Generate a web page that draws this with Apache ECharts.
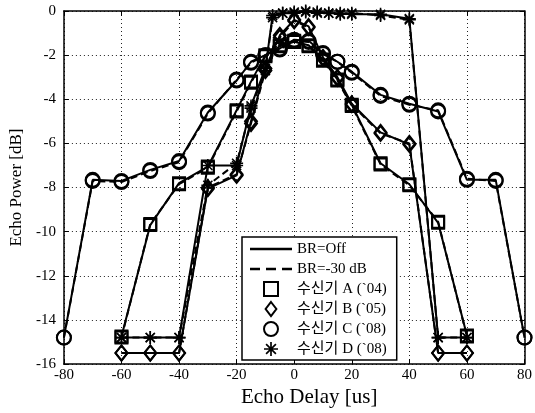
<!DOCTYPE html>
<html><head><meta charset="utf-8">
<script src="https://cdn.jsdelivr.net/npm/echarts@6/dist/echarts.min.js"></script>
<style>html,body{margin:0;padding:0;background:#fff}#c{width:535px;height:413px}</style>
</head><body><div id="c"></div>
<script>
// ---- data ----
const xTicks = [-80, -60, -40, -20, 0, 20, 40, 60, 80];
const yTicks = [-16, -14, -12, -10, -8, -6, -4, -2, 0];

const delayA = [-60, -50, -40, -30, -20, -15, -10, -5, 0, 5, 10, 15, 20, 30, 40, 50, 60];
const powerA_off = [-14.75, -9.7, -7.8, -7.05, -4.5, -3.2, -2.0, -1.6, -1.4, -1.55, -2.2, -3.1, -4.25, -6.9, -7.85, -9.6, -14.7];
const powerA_30  = [-14.8, -9.65, -7.85, -7.1, -4.55, -3.25, -2.05, -1.55, -1.35, -1.6, -2.25, -3.15, -4.3, -6.95, -7.9, -9.55, -14.75];

const delayB = [-60, -50, -40, -30, -20, -15, -10, -5, 0, 5, 10, 15, 20, 30, 40, 50, 60];
const powerB_off = [-15.5, -15.5, -15.5, -8.05, -7.45, -5.0, -2.6, -1.1, -0.4, -0.7, -2.1, -3.0, -4.2, -5.5, -6.05, -15.5, -15.5];
const powerB_30  = [-15.5, -15.5, -15.5, -8.0, -7.4, -5.1, -2.7, -1.2, -0.45, -0.75, -2.15, -3.05, -4.25, -5.55, -6.0, -15.5, -15.5];

const delayC = [-80, -70, -60, -50, -40, -30, -20, -15, -10, -5, 0, 5, 10, 15, 20, 30, 40, 50, 60, 70, 80];
const powerC_off = [-14.8, -7.65, -7.7, -7.2, -6.8, -4.6, -3.15, -2.3, -2.0, -1.7, -1.3, -1.35, -1.9, -2.3, -2.75, -3.8, -4.2, -4.55, -7.65, -7.65, -14.8];
const powerC_30  = [-14.8, -7.7, -7.75, -7.25, -6.85, -4.65, -3.1, -2.35, -2.0, -1.75, -1.35, -1.4, -1.95, -2.3, -2.8, -3.85, -4.25, -4.5, -7.6, -7.7, -14.8];

const delayD = [-60, -50, -40, -30, -20, -15, -10, -7.5, -4, 0, 4, 8, 12, 16, 20, 30, 40, 50, 60];
const powerD_off = [-14.8, -14.8, -14.8, -7.0, -7.0, -4.3, -2.6, -0.2, -0.1, -0.1, 0, -0.05, -0.1, -0.1, -0.15, -0.15, -0.35, -14.8, -14.8];
const powerD_30  = [-14.8, -14.8, -14.8, -7.9, -6.9, -4.4, -2.7, -0.3, -0.1, -0.05, -0.05, -0.1, -0.1, -0.15, -0.1, -0.2, -0.4, -14.8, -14.8];

const legendNames = ['BR=Off', 'BR=-30 dB', '수신기 A (`04)', '수신기 B (`05)', '수신기 C (`08)', '수신기 D (`08)'];
const xName = 'Echo Delay [us]';
const yName = 'Echo Power [dB]';

// ---- styling helpers ----
const SERIF = "'Liberation Serif','Noto Sans CJK KR',serif";
const ASTERISK = 'path://M-1.2,-10L1.2,-10L1.2,10L-1.2,10Z M-10,-1.2L10,-1.2L10,1.2L-10,1.2Z M-6.15,-7.85L7.85,6.15L6.15,7.85L-7.85,-6.15Z M-7.85,6.15L6.15,-7.85L7.85,-6.15L-6.15,7.85Z';
const SQUARE_ICON = 'path://M0,0L10,0L10,10L0,10Z';
const DIAMOND_ICON = 'path://M5,0L10,6.5L5,13L0,6.5Z';
const SOLID_ICON = 'path://M0,0L42,0L42,2.5L0,2.5Z';
const DASH_ICON = 'path://M0,0L10,0L10,2.5L0,2.5Z M16,0L26,0L26,2.5L16,2.5Z M32,0L42,0L42,2.5L32,2.5Z';

const zip = (xs, ys) => xs.map((x, i) => [x, ys[i]]);

const markers = {
  A: {symbol: 'rect', size: 12, hollow: true},
  B: {symbol: 'diamond', size: [12, 15], hollow: true},
  C: {symbol: 'circle', size: 14, hollow: true},
  D: {symbol: ASTERISK, size: 13, hollow: false}
};

function dataSeries(name, xs, ys, m, dashed) {
  return {
    name: name, type: 'line', data: zip(xs, ys),
    symbol: m.symbol, symbolSize: m.size, showAllSymbol: true,
    lineStyle: {color: '#000', width: 2, type: dashed ? [7, 4] : 'solid'},
    itemStyle: m.hollow ? {color: 'rgba(0,0,0,0)', borderColor: '#000', borderWidth: 2}
                        : {color: '#000', borderWidth: 0},
    emphasis: {disabled: true},
    z: 3, animation: false
  };
}

const series = [
  dataSeries('A off', delayA, powerA_off, markers.A, false),
  dataSeries('A 30', delayA, powerA_30, markers.A, true),
  dataSeries('B off', delayB, powerB_off, markers.B, false),
  dataSeries('B 30', delayB, powerB_30, markers.B, true),
  dataSeries('C off', delayC, powerC_off, markers.C, false),
  dataSeries('C 30', delayC, powerC_30, markers.C, true),
  dataSeries('D off', delayD, powerD_off, markers.D, false),
  dataSeries('D 30', delayD, powerD_30, markers.D, true)
];
// legend-only series
legendNames.forEach(n => series.push({name: n, type: 'line', data: [], symbol: 'none',
  lineStyle: {color: '#000'}, itemStyle: {color: '#000'}, animation: false}));

const hollowLegend = {color: 'rgba(0,0,0,0)', borderColor: '#000', borderWidth: 2};
const legendData = [
  {name: legendNames[0], icon: SOLID_ICON, itemStyle: {color: '#000', borderWidth: 0}},
  {name: legendNames[1], icon: DASH_ICON, itemStyle: {color: '#000', borderWidth: 0}},
  {name: legendNames[2], icon: SQUARE_ICON, itemStyle: hollowLegend},
  {name: legendNames[3], icon: DIAMOND_ICON, itemStyle: hollowLegend},
  {name: legendNames[4], icon: 'circle', itemStyle: hollowLegend},
  {name: legendNames[5], icon: ASTERISK, itemStyle: {color: '#000', borderWidth: 0}}
];

const xMin = xTicks[0], xMax = xTicks[xTicks.length - 1], xInt = xTicks[1] - xTicks[0];
const yMin = yTicks[0], yMax = yTicks[yTicks.length - 1], yInt = yTicks[1] - yTicks[0];

const gridLine = {show: true, lineStyle: {color: '#222', width: 1, type: [1, 3]}};
const axisLine = {show: true, onZero: false, lineStyle: {color: '#000', width: 1.5}};
const tickIn = {show: true, inside: true, length: 5, lineStyle: {color: '#000', width: 1}};
const lbl = {color: '#000', fontFamily: SERIF, fontSize: 15};

const chart = echarts.init(document.getElementById('c'), null, {renderer: 'canvas'});
chart.setOption({
  animation: false,
  backgroundColor: '#fff',
  grid: {left: 61, right: 8, top: 11, bottom: 44, containLabel: false},
  legend: {
    data: legendData, orient: 'vertical', left: 242, top: 237,
    itemWidth: 42, itemHeight: 14, itemGap: 4, symbolKeepAspect: true,
    padding: [4, 10, 3, 8],
    backgroundColor: '#fff', borderColor: '#000', borderWidth: 1.5,
    textStyle: {color: '#000', fontFamily: SERIF, fontSize: 15, lineHeight: 16},
    selectedMode: false, z: 10
  },
  xAxis: [
    {type: 'value', min: xMin, max: xMax, interval: xInt, position: 'bottom',
     name: xName, nameLocation: 'middle', nameGap: 15,
     nameTextStyle: {color: '#000', fontFamily: SERIF, fontSize: 21, padding: [0, 0, 0, 30]},
     axisLine: axisLine, axisTick: tickIn, splitLine: gridLine,
     axisLabel: Object.assign({margin: 3}, lbl)},
    {type: 'value', min: xMin, max: xMax, interval: xInt, position: 'top',
     axisLine: axisLine, axisTick: tickIn, splitLine: {show: false}, axisLabel: {show: false}}
  ],
  yAxis: [
    {type: 'value', min: yMin, max: yMax, interval: yInt, position: 'left',
     name: yName, nameLocation: 'middle', nameGap: 26,
     nameTextStyle: {color: '#000', fontFamily: SERIF, fontSize: 17},
     axisLine: axisLine, axisTick: tickIn, splitLine: gridLine,
     axisLabel: Object.assign({margin: 8}, lbl)},
    {type: 'value', min: yMin, max: yMax, interval: yInt, position: 'right',
     axisLine: axisLine, axisTick: tickIn, splitLine: {show: false}, axisLabel: {show: false}}
  ],
  series: series
});
</script></body></html>
